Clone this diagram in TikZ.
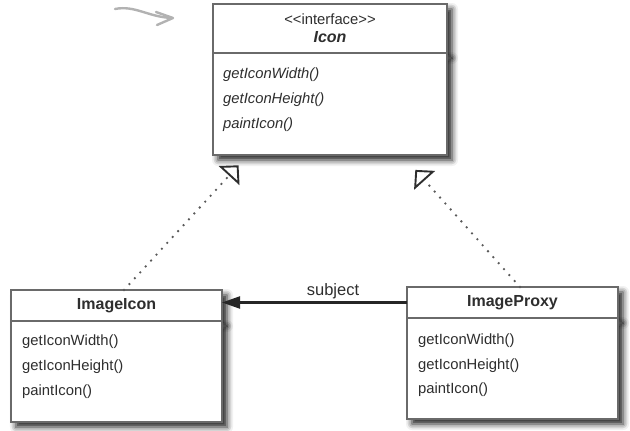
\documentclass[tikz,border=0pt]{standalone}
\usepackage{fontspec}
\setmainfont{Liberation Sans}
\usetikzlibrary{arrows.meta, positioning, shadows.blur}

\definecolor{umlgray}{HTML}{6A6A6A}
\definecolor{umltext}{HTML}{2E2E2E}

\begin{document}
\begin{tikzpicture}[x=1pt, y=-1pt, node distance=0pt,
    every node/.style={font=\fontsize{14.8}{18}\selectfont, text=umltext},
    class_head/.style={draw=umlgray, line width=1.3pt, fill=white, inner sep=0pt, outer sep=0pt,
      minimum width=211pt, minimum height=31pt,
      blur shadow={shadow xshift=5pt, shadow yshift=-5pt, shadow blur radius=6pt, shadow opacity=90}},
    class_body/.style={class_head, minimum height=101pt},
    classname/.style={font=\fontsize{16}{18}\selectfont\bfseries},
    method/.style={anchor=west, inner sep=0pt},
    realize/.style={black!65, line width=2.6pt, line cap=round, dash pattern=on 0pt off 8pt,
      shorten >=14pt, -{Triangle[open, length=14pt, width=28pt, line width=1.9pt, color=umltext]}},
    assoc/.style={line width=2.2pt, black!85, -{Triangle[length=18pt, width=12pt]}},
    squiggle/.style={gray!60, line width=2.4pt, line cap=round, line join=round}
  ]
  \useasboundingbox (0,0) rectangle (630,431);

  % Schnoerkel oben links
  \draw[squiggle] (115,9) .. controls (135,5) and (148,17) .. (172,18);
  \draw[squiggle] (156,12) -- (173,18) -- (157,25);

  % Interface Icon
  \node[class_head, minimum width=234pt, minimum height=49pt, align=center] (icon) at (330,28.5)
    {<\kern0pt<interface>\kern0pt>\\{\fontsize{16}{18}\selectfont\bfseries\itshape Icon}};
  \node[class_body, minimum width=234pt, minimum height=102pt, below=of icon] (iconbody) {};
  \node[method, font=\fontsize{14.8}{18}\selectfont\itshape] (icon_m1) at ([xshift=10pt, yshift=-22pt]iconbody.north west) {getIconWidth()};
  \node[method, font=\fontsize{14.8}{18}\selectfont\itshape] (icon_m2) at ([xshift=10pt, yshift=-47pt]iconbody.north west) {getIconHeight()};
  \node[method, font=\fontsize{14.8}{18}\selectfont\itshape] (icon_m3) at ([xshift=10pt, yshift=-72pt]iconbody.north west) {paintIcon()};

  % Klasse ImageIcon
  \node[class_head, classname] (ii) at (116.5,305.5) {ImageIcon};
  \node[class_body, below=of ii] (iibody) {};
  \node[method] (ii_m1) at ([xshift=11pt, yshift=-21pt]iibody.north west) {getIconWidth()};
  \node[method] (ii_m2) at ([xshift=11pt, yshift=-46pt]iibody.north west) {getIconHeight()};
  \node[method] (ii_m3) at ([xshift=11pt, yshift=-71pt]iibody.north west) {paintIcon()};

  % Klasse ImageProxy
  \node[class_head, classname] (proxy) at (512.5,302.5) {ImageProxy};
  \node[class_body, below=of proxy] (proxybody) {};
  \node[method] (proxy_m1) at ([xshift=11pt, yshift=-23pt]proxybody.north west) {getIconWidth()};
  \node[method] (proxy_m2) at ([xshift=11pt, yshift=-48pt]proxybody.north west) {getIconHeight()};
  \node[method] (proxy_m3) at ([xshift=11pt, yshift=-72pt]proxybody.north west) {paintIcon()};

  % Realisierung (gepunktet, offenes Dreieck)
  \coordinate (icon_in_l) at ([xshift=35pt]iconbody.south west);
  \coordinate (icon_in_r) at ([xshift=-45pt]iconbody.south east);
  \draw[realize] ([xshift=7.5pt]ii.north) -- (icon_in_l);
  \draw[realize, shorten >=20pt] ([xshift=7.5pt]proxy.north) -- (icon_in_r);

  % Assoziation subject
  \draw[assoc] (proxy.west) -- (proxy.west -| ii.east)
    node[pos=0.4, above, inner sep=2pt, font=\fontsize{16.5}{18}\selectfont] (subj) {subject};

\end{tikzpicture}
\end{document}
